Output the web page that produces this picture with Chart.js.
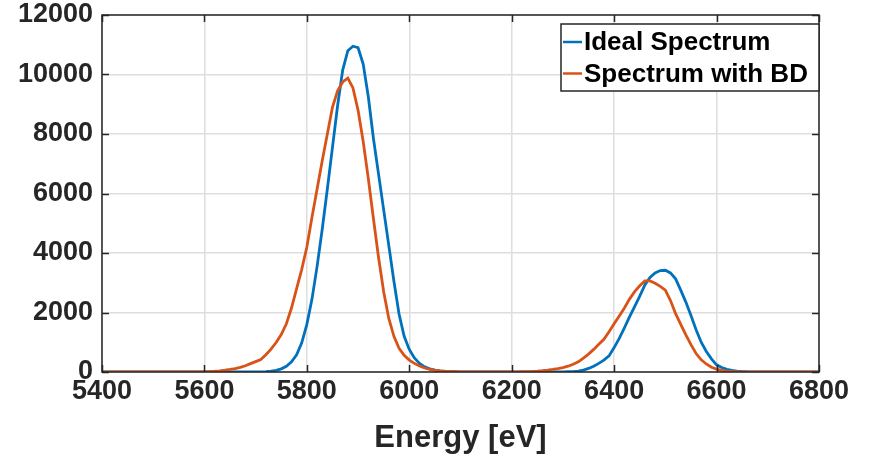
<!DOCTYPE html>
<html>
<head>
<meta charset="utf-8">
<script src="https://cdn.jsdelivr.net/npm/chart.js@4.4.0/dist/chart.umd.min.js"></script>
<style>
  body { margin: 0; background: #fff; }
  #wrap { width: 870px; height: 458px; }
</style>
</head>
<body>
<div id="wrap"><canvas id="graficoEspectro" width="870" height="458"></canvas></div>
<script>
// energia [eV], passo de 10 eV
const energias = [
  5400, 5410, 5420, 5430, 5440, 5450, 5460, 5470, 5480, 5490,
  5500, 5510, 5520, 5530, 5540, 5550, 5560, 5570, 5580, 5590,
  5600, 5610, 5620, 5630, 5640, 5650, 5660, 5670, 5680, 5690,
  5700, 5710, 5720, 5730, 5740, 5750, 5760, 5770, 5780, 5790,
  5800, 5810, 5820, 5830, 5840, 5850, 5860, 5870, 5880, 5890,
  5900, 5910, 5920, 5930, 5940, 5950, 5960, 5970, 5980, 5990,
  6000, 6010, 6020, 6030, 6040, 6050, 6060, 6070, 6080, 6090,
  6100, 6110, 6120, 6130, 6140, 6150, 6160, 6170, 6180, 6190,
  6200, 6210, 6220, 6230, 6240, 6250, 6260, 6270, 6280, 6290,
  6300, 6310, 6320, 6330, 6340, 6350, 6360, 6370, 6380, 6390,
  6400, 6410, 6420, 6430, 6440, 6450, 6460, 6470, 6480, 6490,
  6500, 6510, 6520, 6530, 6540, 6550, 6560, 6570, 6580, 6590,
  6600, 6610, 6620, 6630, 6640, 6650, 6660, 6670, 6680, 6690,
  6700, 6710, 6720, 6730, 6740, 6750, 6760, 6770, 6780, 6790,
  6800
];

const espectroIdeal = [
  0, 0, 0, 0, 0, 0, 0, 0, 0, 0,
  0, 0, 0, 0, 0, 0, 0, 0, 0, 0,
  0, 0, 0, 0, 0, 0, 1, 1, 2, 3,
  4, 7, 14, 28, 55, 105, 190, 340, 580, 980,
  1600, 2450, 3550, 4800, 6150, 7550, 8950, 10150, 10800, 10950,
  10900, 10350, 9250, 7850, 6650, 5450, 4250, 3050, 1950, 1200,
  760, 470, 290, 175, 105, 62, 38, 22, 13, 8,
  5, 3, 2, 1, 1, 0, 0, 0, 0, 0,
  0, 0, 0, 0, 0, 1, 1, 2, 3, 4,
  5, 8, 12, 30, 65, 120, 195, 290, 400, 540,
  820, 1130, 1480, 1850, 2200, 2550, 2930, 3180, 3330, 3410,
  3420, 3330, 3130, 2750, 2350, 1900, 1420, 1000, 690, 440,
  240, 150, 90, 55, 30, 18, 10, 6, 3, 2,
  1, 1, 0, 0, 0, 0, 0, 0, 0, 0,
  0
];

const espectroBD = [
  0, 0, 0, 0, 0, 0, 0, 0, 0, 0,
  0, 0, 0, 0, 0, 1, 1, 2, 3, 5,
  8, 15, 25, 40, 60, 85, 115, 155, 210, 280,
  350, 420, 580, 770, 990, 1260, 1620, 2150, 2800, 3450,
  4200, 5200, 6150, 7100, 8000, 8900, 9450, 9750, 9880, 9550,
  8800, 7750, 6500, 5150, 3850, 2700, 1800, 1200, 800, 560,
  400, 290, 200, 135, 90, 60, 40, 26, 17, 11,
  7, 5, 4, 3, 3, 3, 3, 3, 3, 3,
  3, 5, 8, 12, 18, 28, 42, 60, 85, 115,
  150, 195, 260, 340, 470, 600, 760, 930, 1100, 1350,
  1620, 1880, 2150, 2450, 2700, 2900, 3060, 3060, 2980, 2880,
  2750, 2400, 1960, 1600, 1250, 920, 620, 410, 270, 160,
  95, 55, 32, 18, 10, 6, 3, 2, 1, 1,
  0, 0, 0, 0, 0, 0, 0, 0, 0, 0,
  0
];

const rotulosSerie = ['Ideal Spectrum', 'Spectrum with BD'];
const ticksX = [5400, 5600, 5800, 6000, 6200, 6400, 6600, 6800];
const ticksY = [0, 2000, 4000, 6000, 8000, 10000, 12000];
const tituloX = 'Energy [eV]';

const corAzul = '#0072BD';
const corLaranja = '#D95319';
const corEixo = '#262626';
const fonte = '"Liberation Sans", Arial, Helvetica, sans-serif';

function pontos(valores) {
  return energias.map(function (e, i) { return { x: e, y: valores[i] }; });
}

// caixa, ticks internos e legenda estilo MATLAB
const molduraPlugin = {
  id: 'moldura',
  afterDatasetsDraw(chart) {
    const ctx = chart.ctx;
    const a = chart.chartArea;
    const sx = chart.scales.x;
    const sy = chart.scales.y;

    ctx.save();
    ctx.strokeStyle = corEixo;
    ctx.lineWidth = 1.5;
    ctx.beginPath();
    ticksX.forEach(function (v) {
      const px = Math.round(sx.getPixelForValue(v)) + 0.5;
      ctx.moveTo(px, a.bottom); ctx.lineTo(px, a.bottom - 7);
      ctx.moveTo(px, a.top); ctx.lineTo(px, a.top + 7);
    });
    ticksY.forEach(function (v) {
      const py = Math.round(sy.getPixelForValue(v)) + 0.5;
      ctx.moveTo(a.left, py); ctx.lineTo(a.left + 7, py);
      ctx.moveTo(a.right, py); ctx.lineTo(a.right - 7, py);
    });
    ctx.stroke();
    ctx.strokeRect(a.left, a.top, a.right - a.left, a.bottom - a.top);

    // legenda
    const lw = 258, lh = 67;
    const lx = a.right - lw, ly = a.top + 9;
    ctx.fillStyle = '#ffffff';
    ctx.fillRect(lx, ly, lw, lh);
    ctx.strokeRect(lx, ly, lw, lh);

    ctx.font = 'bold 26px ' + fonte;
    ctx.textBaseline = 'middle';
    ctx.textAlign = 'left';
    chart.data.datasets.forEach(function (ds, i) {
      const yy = ly + 18 + i * 31.5;
      ctx.strokeStyle = ds.borderColor;
      ctx.lineWidth = 2.5;
      ctx.beginPath();
      ctx.moveTo(lx + 2, yy);
      ctx.lineTo(lx + 21, yy);
      ctx.stroke();
      ctx.fillStyle = '#000000';
      ctx.fillText(ds.label, lx + 23, yy + 1);
    });
    ctx.restore();
  }
};

const graficoEspectro = document.getElementById('graficoEspectro');

let findGraficoEspectro = new Chart(graficoEspectro, {
  type: 'line',
  data: {
    datasets: [
      {
        label: rotulosSerie[0],
        data: pontos(espectroIdeal),
        borderColor: corAzul,
        borderWidth: 2.8,
        pointRadius: 0,
        fill: false,
        order: 1
      },
      {
        label: rotulosSerie[1],
        data: pontos(espectroBD),
        borderColor: corLaranja,
        borderWidth: 2.8,
        pointRadius: 0,
        fill: false,
        order: 0
      }
    ]
  },
  options: {
    responsive: false,
    animation: false,
    layout: {
      padding: { left: 0, top: 15, right: 51, bottom: 0 }
    },
    plugins: {
      legend: { display: false },
      tooltip: { enabled: false }
    },
    scales: {
      x: {
        type: 'linear',
        min: 5400,
        max: 6800,
        afterBuildTicks: function (s) { s.ticks = ticksX.map(function (v) { return { value: v }; }); },
        afterFit: function (s) { s.height = 86; s.paddingLeft = 0; s.paddingRight = 0; },
        border: { display: false },
        grid: { color: '#dedede', lineWidth: 1.5, drawTicks: false },
        ticks: {
          padding: 5,
          color: corEixo,
          font: { family: fonte, size: 27, weight: 'bold', lineHeight: 1.1 },
          callback: function (v) { return String(v); }
        },
        title: {
          display: true,
          text: tituloX,
          color: corEixo,
          padding: { top: 0, bottom: 1 },
          font: { family: fonte, size: 31, weight: 'bold' }
        }
      },
      y: {
        min: 0,
        max: 12000,
        afterBuildTicks: function (s) { s.ticks = ticksY.map(function (v) { return { value: v }; }); },
        afterFit: function (s) { s.width = 102; s.paddingTop = 0; s.paddingBottom = 0; },
        border: { display: false },
        grid: { color: '#dedede', lineWidth: 1.5, drawTicks: false },
        ticks: {
          padding: 9,
          color: corEixo,
          font: { family: fonte, size: 27, weight: 'bold', lineHeight: 1.1 },
          callback: function (v) { return String(v); }
        }
      }
    }
  },
  plugins: [molduraPlugin]
});
</script>
</body>
</html>
